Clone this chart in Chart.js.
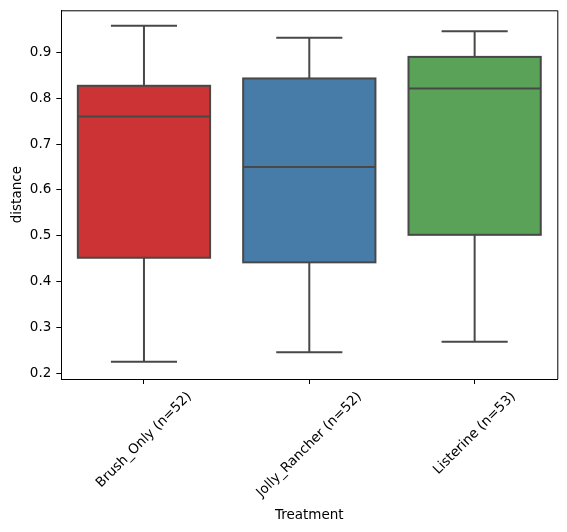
<!DOCTYPE html>
<html>
<head>
<meta charset="utf-8">
<script src="https://cdn.jsdelivr.net/npm/chart.js@4"></script>
<style>
  body { margin: 0; background: #fff; }
</style>
</head>
<body>
<canvas id="chart" width="567" height="532"></canvas>
<script>
// box plot values
const categories = ['Brush_Only (n=52)', 'Jolly_Rancher (n=52)', 'Listerine (n=53)'];
const whiskerLow = [0.225, 0.246, 0.269];
const q1 = [0.452, 0.442, 0.502];
const median = [0.760, 0.650, 0.821];
const q3 = [0.827, 0.843, 0.890];
const whiskerHigh = [0.958, 0.932, 0.946];
const yTicks = [0.2, 0.3, 0.4, 0.5, 0.6, 0.7, 0.8, 0.9];
const boxColors = ['#cb3335', '#477ca8', '#59a257'];

const lineGray = '#484848';
const fontFamily = "'DejaVu Sans', sans-serif";

Chart.defaults.color = '#000';
Chart.defaults.font.family = fontFamily;
Chart.defaults.font.size = 13.5;

// box outlines, whiskers, caps and median lines on top of the boxes
const boxLines = {
  id: 'boxLines',
  afterDatasetsDraw(chart) {
    const y = chart.scales.y;
    const meta = chart.getDatasetMeta(0);
    const ctx = chart.ctx;
    ctx.save();
    ctx.strokeStyle = lineGray;
    ctx.lineWidth = 2;
    meta.data.forEach((bar, i) => {
      const x = bar.x;
      const half = bar.width / 2;
      const cap = bar.width / 4;
      const top = y.getPixelForValue(q3[i]);
      const bottom = y.getPixelForValue(q1[i]);
      ctx.strokeRect(x - half, top, half * 2, bottom - top);
      ctx.beginPath();
      ctx.moveTo(x, top);
      ctx.lineTo(x, y.getPixelForValue(whiskerHigh[i]));
      ctx.moveTo(x, bottom);
      ctx.lineTo(x, y.getPixelForValue(whiskerLow[i]));
      ctx.moveTo(x - cap, y.getPixelForValue(whiskerHigh[i]));
      ctx.lineTo(x + cap, y.getPixelForValue(whiskerHigh[i]));
      ctx.moveTo(x - cap, y.getPixelForValue(whiskerLow[i]));
      ctx.lineTo(x + cap, y.getPixelForValue(whiskerLow[i]));
      ctx.moveTo(x - half, y.getPixelForValue(median[i]));
      ctx.lineTo(x + half, y.getPixelForValue(median[i]));
      ctx.stroke();
    });
    ctx.restore();
  },
  afterDraw(chart) {
    // top and right spines
    const a = chart.chartArea;
    const ctx = chart.ctx;
    ctx.save();
    ctx.strokeStyle = '#000';
    ctx.lineWidth = 1;
    ctx.beginPath();
    ctx.moveTo(a.left, a.top + 0.5);
    ctx.lineTo(a.right + 0.5, a.top + 0.5);
    ctx.lineTo(a.right + 0.5, a.bottom);
    ctx.stroke();
    ctx.restore();
  }
};

// centre the rotated category labels under their ticks, like matplotlib does
const centerRotatedLabels = {
  id: 'centerRotatedLabels',
  beforeDraw(chart) {
    const xs = chart.scales.x;
    const items = xs.getLabelItems(chart.chartArea);
    const ctx = chart.ctx;
    const topY = xs.top + 10;
    items.forEach((item, i) => {
      ctx.save();
      ctx.font = item.font.string;
      const w = ctx.measureText(item.label).width;
      ctx.restore();
      const h = item.font.size * 1.17;
      const boxH = (w + h) * Math.SQRT1_2;
      item.textOffset = 0;
      item.options.textAlign = 'center';
      item.options.textBaseline = 'middle';
      item.options.translation = [xs.getPixelForTick(i), topY + boxH / 2];
    });
  }
};

new Chart(document.getElementById('chart'), {
  type: 'bar',
  data: {
    labels: categories,
    datasets: [
      {
        data: q1.map((v, i) => [v, q3[i]]),
        backgroundColor: boxColors,
        borderWidth: 0,
        barPercentage: 0.8,
        categoryPercentage: 1
      }
    ]
  },
  options: {
    responsive: false,
    animation: false,
    events: [],
    layout: {
      padding: { left: 0, right: 9.7, top: 10.3, bottom: 0 }
    },
    plugins: {
      legend: { display: false },
      tooltip: { enabled: false }
    },
    scales: {
      x: {
        grid: {
          offset: false,
          drawOnChartArea: false,
          drawTicks: true,
          tickLength: 5,
          tickColor: '#000'
        },
        border: { display: true, color: '#000', width: 1 },
        ticks: {
          minRotation: 45,
          maxRotation: 45,
          autoSkip: false,
          color: '#000'
        },
        title: {
          display: true,
          text: 'Treatment',
          color: '#000',
          padding: { top: 0, bottom: 8 }
        },
        afterFit(scale) {
          scale.height = 153;
          scale.paddingLeft = 0;
          scale.paddingRight = 0;
        }
      },
      y: {
        min: 0.1876,
        max: 0.9916,
        grid: {
          drawOnChartArea: false,
          drawTicks: true,
          tickLength: 5,
          tickColor: '#000'
        },
        border: { display: true, color: '#000', width: 1 },
        ticks: {
          padding: 5,
          color: '#000',
          callback: (v) => v.toFixed(1)
        },
        afterBuildTicks(scale) {
          scale.ticks = yTicks.map((v) => ({ value: v }));
        },
        title: {
          display: true,
          text: 'distance',
          color: '#000',
          padding: { top: 9, bottom: 0 }
        },
        afterFit(scale) {
          scale.width = 61.3;
          // the y tick labels fit inside the axes, so no extra room above or below
          scale.paddingTop = 0;
          scale.paddingBottom = 0;
        }
      }
    }
  },
  plugins: [boxLines, centerRotatedLabels]
});
</script>
</body>
</html>
